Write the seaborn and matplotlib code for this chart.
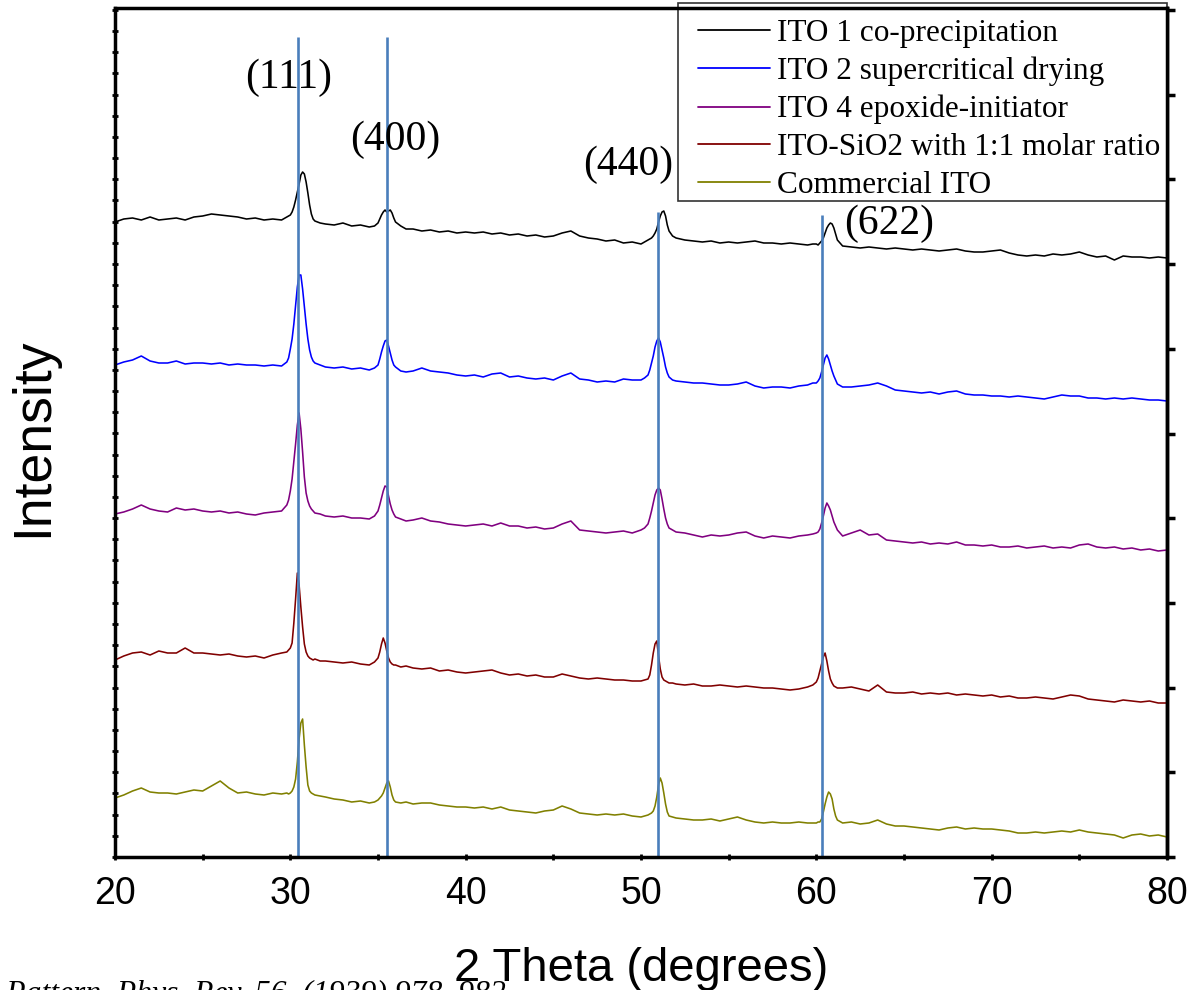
import numpy as np
import pandas as pd
import matplotlib
matplotlib.use("Agg")
import matplotlib.pyplot as plt
from matplotlib.ticker import MultipleLocator
from matplotlib.font_manager import FontProperties
from matplotlib.patches import Rectangle
import seaborn as sns

# 2-theta sampling positions (degrees); finer steps across the diffraction peaks
two_theta = [
    20.0, 20.5, 21.0, 21.5, 22.0, 22.5, 23.0, 23.5, 24.0, 24.5, 25.0, 25.5, 26.0, 26.5, 27.0, 27.5, 28.0, 28.5, 29.0, 29.5,
    29.8, 29.9, 30.0, 30.1, 30.2, 30.3, 30.4, 30.5, 30.6, 30.7, 30.8, 30.9, 31.0, 31.1, 31.2, 31.3, 31.4,
    31.7, 32.0, 32.5, 33.0, 33.5, 34.0, 34.5, 34.8,
    35.0, 35.1, 35.2, 35.3, 35.4, 35.5, 35.6, 35.7, 35.8, 35.9, 36.0,
    36.3, 36.6, 37.0, 37.5, 38.0, 38.5, 39.0, 39.5, 40.0, 40.5, 41.0, 41.5, 42.0, 42.5, 43.0, 43.5, 44.0, 44.5, 45.0,
    45.5, 46.0, 46.5, 47.0, 47.5, 48.0, 48.5, 49.0, 49.5, 50.0,
    50.2, 50.4, 50.5, 50.6, 50.7, 50.8, 50.9, 51.0, 51.1, 51.2, 51.3, 51.4, 51.5, 51.6, 51.8,
    52.0, 52.5, 53.0, 53.5, 54.0, 54.5, 55.0, 55.5, 56.0, 56.5, 57.0, 57.5, 58.0, 58.5, 59.0, 59.5, 59.8,
    60.0, 60.1, 60.2, 60.3, 60.4, 60.5, 60.6, 60.7, 60.8, 60.9, 61.0, 61.1, 61.2, 61.5,
    62.0, 62.5, 63.0, 63.5, 64.0, 64.5, 65.0, 65.5, 66.0, 66.5, 67.0, 67.5, 68.0, 68.5, 69.0, 69.5, 70.0,
    70.5, 71.0, 71.5, 72.0, 72.5, 73.0, 73.5, 74.0, 74.5, 75.0, 75.5, 76.0, 76.5, 77.0, 77.5, 78.0, 78.5,
    79.0, 79.5, 80.0,
]

# Stacked intensities (a.u., each pattern offset vertically)
ito1_coprecipitation = [
    635, 638, 639, 637, 640, 637, 638, 639, 637, 640, 641, 643, 642, 641, 640, 638, 639, 637, 638, 637,
    640, 641, 642, 645, 650, 657, 665, 673, 682, 685, 683, 675, 664, 652, 643, 638, 636,
    634, 633, 632, 634, 631, 632, 630, 631,
    634, 638, 642, 645, 647, 645, 646, 647, 644, 639, 635,
    631, 628, 628, 626, 627, 625, 626, 624, 625, 624, 625, 623, 624, 622, 623, 621, 622, 620, 621,
    624, 626, 621, 619, 618, 616, 617, 614, 615, 613,
    615, 617, 618, 619, 621, 624, 628, 635, 641, 645, 646, 641, 632, 626, 621,
    619, 617, 616, 615, 616, 614, 615, 614, 615, 616, 614, 614, 613, 614, 613, 612, 613,
    613, 612, 614, 616, 619, 624, 629, 632, 634, 633, 629, 623, 617, 611,
    610, 609, 610, 609, 608, 609, 608, 607, 608, 607, 606, 607, 608, 606, 605, 605, 606,
    607, 604, 602, 601, 602, 601, 603, 602, 603, 605, 602, 600, 601, 597, 601, 600, 600,
    599, 600, 599,
]
ito2_supercritical = [
    492, 495, 497, 501, 496, 494, 494, 496, 493, 494, 494, 493, 494, 492, 493, 492, 492, 491, 492, 491,
    495, 499, 508, 518, 533, 552, 570, 582, 582, 568, 550, 533, 518, 507, 500, 496, 494,
    492, 490, 489, 490, 488, 489, 487, 489,
    492, 498, 505, 511, 516, 517, 511, 504, 497, 492, 490,
    486, 485, 486, 489, 486, 485, 484, 482, 481, 482, 480, 483, 484, 480, 481, 479, 478, 479, 477,
    481, 484, 478, 477, 475, 476, 475, 478, 477, 477,
    479, 482, 487, 494, 501, 510, 516, 519, 515, 507, 499, 490, 484, 480, 477,
    476, 475, 474, 474, 473, 472, 472, 473, 475, 471, 469, 470, 470, 469, 471, 472, 474,
    474, 476, 479, 485, 492, 499, 502, 498, 492, 486, 481, 477, 473, 470,
    470, 471, 472, 474, 471, 467, 466, 465, 464, 465, 463, 465, 466, 463, 462, 462, 461,
    461, 460, 461, 460, 459, 458, 460, 462, 461, 461, 459, 459, 458, 459, 458, 459, 458,
    457, 457, 456,
]
ito4_epoxide = [
    343, 345, 348, 352, 348, 346, 345, 349, 347, 348, 346, 345, 346, 344, 345, 343, 342, 344, 345, 346,
    352, 357, 366, 378, 395, 413, 432, 444, 428, 405, 380, 364, 356, 351, 348, 346, 344,
    343, 341, 340, 341, 339, 339, 338, 341,
    346, 352, 359, 366, 371, 370, 361, 353, 347, 343, 340,
    338, 336, 337, 339, 336, 335, 333, 332, 331, 332, 333, 331, 334, 331, 331, 329, 330, 328, 329,
    333, 336, 327, 326, 325, 324, 325, 326, 324, 327,
    329, 333, 339, 346, 354, 362, 367, 369, 367, 358, 348, 339, 333, 329, 327,
    325, 324, 322, 320, 322, 321, 322, 324, 325, 321, 319, 321, 320, 319, 321, 322, 323,
    324, 325, 328, 334, 341, 349, 354, 351, 347, 341, 335, 331, 327, 321,
    324, 327, 322, 323, 317, 316, 315, 314, 315, 313, 314, 313, 315, 312, 312, 311, 312,
    310, 310, 311, 309, 310, 311, 309, 310, 309, 312, 313, 310, 309, 310, 308, 309, 307,
    308, 306, 307,
]
ito_sio2_1to1 = [
    197, 201, 204, 205, 202, 206, 204, 204, 209, 204, 204, 203, 202, 203, 201, 200, 201, 199, 202, 204,
    205, 207, 209, 214, 234, 258, 284, 272, 250, 230, 213, 205, 201, 199, 198, 197, 198,
    196, 196, 195, 194, 195, 193, 192, 195,
    199, 205, 213, 219, 214, 206, 199, 195, 193, 192, 192,
    190, 191, 189, 188, 189, 186, 187, 185, 184, 185, 186, 187, 184, 182, 183, 181, 182, 180, 180,
    183, 181, 179, 178, 179, 178, 177, 177, 176, 176,
    177, 178, 182, 192, 204, 213, 216, 201, 188, 180, 177, 176, 175, 174, 174,
    173, 172, 173, 171, 171, 172, 171, 170, 171, 170, 169, 169, 168, 167, 168, 170, 172,
    175, 179, 186, 193, 200, 204, 196, 186, 178, 174, 171, 170, 169, 169,
    170, 168, 166, 172, 165, 164, 164, 165, 163, 164, 163, 164, 162, 163, 162, 161, 162,
    160, 161, 159, 159, 160, 159, 158, 160, 162, 161, 158, 157, 156, 155, 157, 156, 155,
    156, 154, 154,
]
commercial_ito = [
    59, 62, 66, 69, 65, 64, 64, 63, 65, 67, 66, 71, 76, 69, 64, 65, 63, 62, 64, 63,
    64, 63, 64, 66, 70, 78, 95, 118, 134, 138, 112, 90, 72, 66, 64, 63, 62,
    61, 60, 58, 57, 55, 56, 54, 55,
    57, 59, 61, 64, 69, 74, 76, 70, 62, 57, 55,
    54, 55, 53, 54, 54, 52, 51, 50, 50, 49, 50, 48, 50, 47, 46, 45, 44, 46, 47,
    51, 48, 44, 43, 42, 43, 42, 43, 41, 40,
    41, 42, 43, 44, 46, 51, 60, 72, 79, 74, 64, 53, 45, 41, 40,
    39, 38, 37, 37, 38, 36, 38, 40, 37, 35, 34, 35, 34, 34, 35, 34, 34,
    34, 35, 35, 38, 45, 53, 60, 65, 63, 58, 48, 41, 37, 34,
    35, 33, 34, 37, 33, 31, 31, 30, 29, 28, 27, 29, 30, 28, 29, 28, 28,
    27, 26, 24, 24, 25, 24, 25, 26, 25, 27, 25, 24, 23, 22, 19, 22, 23,
    21, 22, 20,
]

sample_labels = [
    "ITO 1 co-precipitation",
    "ITO 2 supercritical drying",
    "ITO 4 epoxide-initiator",
    "ITO-SiO2 with 1:1 molar ratio",
    "Commercial ITO",
]
sample_colors = ["#000000", "#0000FF", "#800080", "#800000", "#808000"]

# Reference reflections of cubic In2O3 (bixbyite)
ref_peaks = [30.42, 35.53, 50.95, 60.35]
ref_tops = [820, 820, 645, 642]
hkl_labels = ["(111)", "(400)", "(440)", "(622)"]
hkl_x = [29.92, 35.97, 49.26, 64.15]
hkl_y = [779, 717, 692, 633]

sns.set_theme(style="white")
plt.rcParams["font.family"] = ["Liberation Sans", "DejaVu Sans"]
plt.rcParams["axes.edgecolor"] = "black"
plt.rcParams["text.color"] = "black"
plt.rcParams["axes.labelcolor"] = "black"
plt.rcParams["xtick.color"] = "black"
plt.rcParams["ytick.color"] = "black"

series = [ito1_coprecipitation, ito2_supercritical, ito4_epoxide, ito_sio2_1to1, commercial_ito]
frames = [
    pd.DataFrame({"two_theta": two_theta, "intensity": vals, "sample": lab})
    for vals, lab in zip(series, sample_labels)
]
df = pd.concat(frames, ignore_index=True)

W, H = 1189, 990
fig = plt.figure(figsize=(W / 100, H / 100), dpi=100)
ax = fig.add_axes([115 / W, 1 - 857 / H, 1052 / W, 849 / H])

sns.lineplot(
    data=df, x="two_theta", y="intensity", hue="sample",
    hue_order=sample_labels, palette=dict(zip(sample_labels, sample_colors)),
    estimator=None, sort=False, linewidth=1.15, ax=ax, legend=True,
)

ax.vlines(ref_peaks, 0, ref_tops, colors="#4A7EBB", linewidth=1.9, zorder=3)

serif = "Liberation Serif"
for lab, x, y in zip(hkl_labels, hkl_x, hkl_y):
    ax.text(x, y, lab, ha="center", va="center", fontsize=30, family=serif, color="black", zorder=4)

ax.set_xlim(20, 80)
ax.set_ylim(0, 849)
ax.xaxis.set_major_locator(MultipleLocator(10))
ax.xaxis.set_minor_locator(MultipleLocator(5))
ax.yaxis.set_major_locator(MultipleLocator(21.18))
ax.tick_params(axis="x", which="both", direction="inout", length=4, width=2, colors="black",
               labelsize=27, pad=12, bottom=True, top=False)
ax.tick_params(axis="y", which="both", direction="inout", length=4, width=2, colors="black",
               labelleft=False, left=True, right=False)
ax.set_xlabel("")
ax.set_ylabel("")
for sp in ax.spines.values():
    sp.set_visible(True)
    sp.set_linewidth(2.5)
    sp.set_color("black")
    sp.set_zorder(5)

sec = ax.secondary_yaxis("right")
sec.yaxis.set_major_locator(MultipleLocator(84.7))
sec.tick_params(direction="out", length=6, width=2.5, labelright=False, colors="black")
sec.spines["right"].set_linewidth(2.5)

# Legend box (drawn beneath the axes frame) and legend entries
legend_box = Rectangle((678 / W, 1 - 201 / H), (1167 - 678) / W, (201 - 3) / H,
                       transform=fig.transFigure, facecolor="white", edgecolor="#333333",
                       linewidth=1.2, zorder=4.4, clip_on=False)
ax.add_patch(legend_box)

handles, labels = ax.get_legend_handles_labels()
leg = ax.legend(
    handles, labels, loc="upper left",
    bbox_to_anchor=(698 / W, 1 - 19 / H), bbox_transform=fig.transFigure,
    borderaxespad=0, frameon=False,
    prop=FontProperties(family=serif, size=22.5),
    handlelength=2.3, handletextpad=0.22, labelspacing=0.28, borderpad=0,
)
leg.set_zorder(4.6)
for h in leg.get_lines():
    h.set_linewidth(1.3)
for t in leg.get_texts():
    t.set_color("black")

fig.text(641 / W, 1 - 981 / H, "2 Theta (degrees)", ha="center", va="baseline",
         fontsize=34, color="black")
fig.text(33 / W, 1 - 437 / H, "Intensity", ha="center", va="center", rotation=90,
         fontsize=38.5, color="black")
fig.text(506 / W, 1 - 1002 / H, "X-ray Diffraction Pattern, Phys. Rev. 56, (1939) 978\u2013982",
         ha="right", va="baseline", fontsize=22.8, family=serif, style="italic", color="black")

fig.savefig("out.png", dpi=100)
